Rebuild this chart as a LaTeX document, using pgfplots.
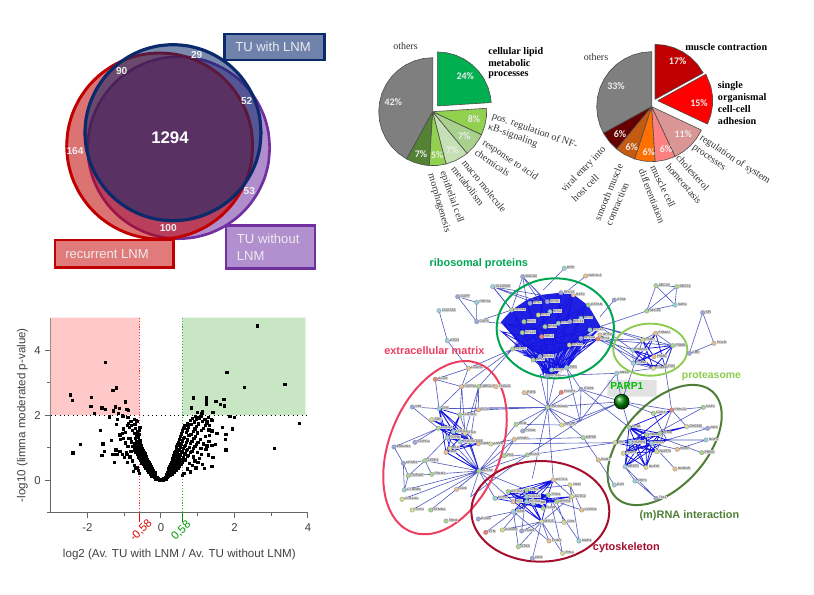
\documentclass[border=0pt]{standalone}
\usepackage{fontspec}
\setmainfont{Liberation Sans}
\newfontfamily\serif{Liberation Serif}
\newfontfamily\calib{Carlito}
\usepackage{pgfplots}
\usepackage{pgfplotstable}
\pgfplotsset{compat=1.18}

\definecolor{vred}{HTML}{C00000}
\definecolor{vnavy}{HTML}{0B2A6B}
\definecolor{vpurple}{HTML}{7030A0}
\definecolor{boxn}{HTML}{6F82AC}
\definecolor{boxr}{HTML}{E17B7B}
\definecolor{boxp}{HTML}{B28FCF}
\definecolor{netblue}{HTML}{4F58C0}
\definecolor{netdense}{HTML}{1414E0}
\definecolor{ovgreen}{HTML}{00A651}
\definecolor{ovlime}{HTML}{8CCB4E}
\definecolor{ovdark}{HTML}{4F7F36}
\definecolor{ovpink}{HTML}{EC3F63}
\definecolor{ovcrim}{HTML}{A50F2D}
\definecolor{pgray}{HTML}{7F7F7F}
\definecolor{pa}{HTML}{00B050}
\definecolor{pb}{HTML}{92D050}
\definecolor{pc}{HTML}{A9D18E}
\definecolor{pd}{HTML}{C5E0B4}
\definecolor{pe}{HTML}{548235}
\definecolor{qa}{HTML}{C00000}
\definecolor{qb}{HTML}{FF0000}
\definecolor{qc}{HTML}{D99694}
\definecolor{qd}{HTML}{FF8080}
\definecolor{qe}{HTML}{FF7000}
\definecolor{qf}{HTML}{C55A11}
\definecolor{qg}{HTML}{660000}
\definecolor{ndG}{HTML}{A8D692}
\definecolor{ndT}{HTML}{98D2D8}
\definecolor{ndO}{HTML}{E8BE90}
\definecolor{ndY}{HTML}{D8DA90}
\definecolor{ndP}{HTML}{9CA6DC}
\definecolor{ndR}{HTML}{E88273}
\definecolor{vpink}{HTML}{FFC9C9}
\definecolor{vmint}{HTML}{C8E6C4}

% unit circle, scaled for the venn sets and the network ovals
\pgfplotstableread{
c s
1 0
.985 .174
.94 .342
.866 .5
.766 .643
.643 .766
.5 .866
.342 .94
.174 .985
0 1
-.174 .985
-.342 .94
-.5 .866
-.643 .766
-.766 .643
-.866 .5
-.94 .342
-.985 .174
-1 0
-.985 -.174
-.94 -.342
-.866 -.5
-.766 -.643
-.643 -.766
-.5 -.866
-.342 -.94
-.174 -.985
0 -1
.174 -.985
.342 -.94
.5 -.866
.643 -.766
.766 -.643
.866 -.5
.94 -.342
.985 -.174
1 0
}\ringtab

% network nodes, one table per colour
\pgfplotstableread{
x y n
425 195 RPS3A
462 230 RPL5
525 245 RPS8
457 263 RPL23
428 312 RPS27
490 345 RPL9
655 180 EEF1B
326 425 UBE2L3
533 487 HSP90AA1
270 510 COL4A1
438 538 BGN
640 578 KIF5B
165 647 LTBP1
115 692 TNFAIP
185 688 FBLN1
182 795 STMN1
228 828 FBN1
327 678 ACTA2
403 632 FN1
472 630 RCN1
415 740 ACTG1
470 735 TPM2
445 905 STK3
908 302 PSMB
858 122 SEC23
830 198 SEC13
995 623 PRKD
1000 487 SAP1
920 125 SEC31
205 550 COL6A
300 590 ITGB5
535 750 TPM1
560 770 MYH11
520 790 FLNA
830 570 RBM3
870 565 DHX9
850 505 GSK3
777 547 SF3B
}\nodeG
\pgfplotstableread{
x y n
583 70 BRP
368 125 SLC25A5
320 172 PRPS1
207 197 COX7A2
232 287 ATG3
207 491 CPE
232 578 TGFBI
103 735 CTNNB1
660 255 RPL13
590 368 EIF3
788 315 PSMA2
790 355 PSMD
740 385 ANXA
795 708 CBP1
765 665 SRSF1
782 593 HNRPA
845 595 DDX5
1008 585 NOP2
915 180 SAR1
733 720 EZH
627 888 MAP4
490 775 TUBB
375 760 MYH9
430 800 TLN1
250 560 COL5A
270 590 POSTN
470 770 ACTN1
470 755 CALD1
565 235 RPL4
633 220 RPS4
540 200 RPL6
545 375 RPS9
}\nodeT
\pgfplotstableread{
x y n
647 93 NAP1L3
295 370 LGOR1
275 425 CAPN2
378 425 TAGLN
463 443 P3H1
325 495 DCN
433 583 SPARC
260 733 CD9
690 270 RPS6
610 150 EEF2
857 265 PSMA7
852 335 PSME
1032 295 POLR
922 613 SNRP
915 672 HNRNP
685 645 RAB7
550 705 ACTC1
430 770 VCL
635 795 CORO1
537 888 CNN1
325 597 LAMA
228 622 LUM
}\nodeO
\pgfplotstableread{
x y n
505 210 RPL7
598 300 RPL10
285 565 ITGA
363 597 LAMB
96 763 COL1A1
127 795 THY1
185 524 SDC
240 610 ELN
575 540 RPLP0
885 365 TXN
850 370 PSMD2
950 545 CHCHD
600 720 VIM2
605 755 ACTC2
515 830 MYL6
397 855 SORBS
578 925 FHL1
582 832 CSN
818 285 FSBP
760 625 HNRH
860 620 NUDT3
828 667 NUFIP
735 593 SRP
}\nodeY
\pgfplotstableread{
x y n
458 95 NACA2
263 155 CAPP
320 230 CAPS
733 165 STIM
633 433 ITGB1
127 486 VIM
458 558 PCNA
72 606 EMILIN1
135 592 COPG1
100 655 NFKB1
998 203 SPI
958 325 GRP
858 760 TIA1
1013 550 DDX
325 822 EXOC
455 858 VCAN
487 940 DES
532 170 RPS5
573 143 RPL11
480 175 RPS7
600 230 RPL14
633 280 RPS10
510 335 RPL15
532 393 RPS11
}\nodeP
\pgfplotstableread{
x y n
574 442 FKBP4
515 275 RPL3
905 495 PRKCD
347 862 VTN
196 403 ACO2
683 282 RPS2
}\nodeR

\pgfplotsset{
  canvas/.style={hide axis, clip=false, x=0.75pt, y=0.75pt, enlargelimits=false},
  netcanvas/.style={hide axis, clip=false, x=0.25pt, y=0.25pt, enlargelimits=false,
    xmin=0, xmax=1110, ymin=0, ymax=990, y dir=reverse},
  slice/.style={draw=black!70, line width=0.45pt, fill=#1, data cs=polar, line join=round},
  netline/.style={color=netblue, line width=0.45pt, no markers},
  netthick/.style={color=netdense, line width=0.55pt, no markers},
  netnode/.style={only marks, mark=*, mark size=1.7pt,
    mark options={fill=#1, draw=black!45, line width=0.2pt},
    point meta=explicit symbolic, nodes near coords,
    every node near coord/.style={font=\fontsize{2.6}{2.8}\selectfont, text=black!70, fill=black!16,
      inner sep=0.25pt, anchor=west, xshift=1.8pt, yshift=0.5pt}},
}

\newcommand{\ringoval}[6]{\addplot[#1, smooth, no markers, line cap=round] table[
  x expr={#2+#3*cos(#6)*\thisrow{c}-#4*sin(#6)*\thisrow{s}},
  y expr={#5+#3*sin(#6)*\thisrow{c}+#4*cos(#6)*\thisrow{s}}] {\ringtab};}
\newcommand{\lab}[4]{\node[anchor=west, rotate=#3, inner sep=0pt, text=black!80,
  font=\fontsize{7.5}{8}\selectfont\serif] at (axis cs:#1,#2) {#4};}
\newcommand{\blab}[3]{\node[anchor=west, inner sep=0pt, text=black,
  font=\fontsize{7.6}{8}\selectfont\serif\bfseries] at (axis cs:#1,#2) {#3};}
\newcommand{\pct}[3]{\node[inner sep=0pt, text=white!93!black,
  font=\fontsize{7.5}{8}\selectfont\calib\bfseries] at (axis cs:#1,#2) {#3};}
\newcommand{\vn}[3]{\node[inner sep=0pt, text=white!93!black,
  font=\fontsize{7.6}{8}\selectfont\bfseries] at (axis cs:#1,#2) {#3};}
\newcommand{\labelbox}[6]{\addplot[fill=#1, draw=#2, line width=2.2pt, line join=miter] coordinates
  {(#3,#4) (#5,#4) (#5,#6) (#3,#6) (#3,#4) (#5,#4)};}
\newcommand{\edge}[1]{\addplot[netline] coordinates {#1};}
\newcommand{\dense}[1]{\addplot[netthick] coordinates {#1};}
\newcommand{\netlabel}[4]{\node[anchor=west, inner sep=0pt, text=#1,
  font=\fontsize{#2}{9}\selectfont\bfseries] at (axis cs:#3) {#4};}

\begin{document}
\begin{tikzpicture}
\useasboundingbox (0,0) rectangle (610.5pt,446.25pt);

% ---- pie 1
\begin{axis}[canvas, at={(324.53pt,362.48pt)}, anchor=center, xmin=-70, xmax=70, ymin=-70, ymax=70]
\addplot[slice=pgray] coordinates {(0,0) (90,54) (100,54) (110,54) (120,54) (130,54) (140,54) (150,54) (160,54) (170,54) (180,54) (190,54) (200,54) (210,54) (220,54) (230,54) (241.2,54) (0,0)};
\addplot[slice=pe] coordinates {(0,0) (241.2,54) (250,54) (260,54) (266.4,54) (0,0)};
\addplot[slice=pb] coordinates {(0,0) (-93.6,54) (-85,54) (-75.6,54) (0,0)};
\addplot[slice=pd] coordinates {(0,0) (-75.6,54) (-65,54) (-55,54) (-50.4,54) (0,0)};
\addplot[slice=pc] coordinates {(0,0) (-50.4,54) (-40,54) (-30,54) (-25.2,54) (0,0)};
\addplot[slice=pb] coordinates {(0,0) (-25.2,54) (-15,54) (-5,54) (3.6,54) (0,0)};
\addplot[slice=pa, xshift=3.45pt, yshift=4.3pt] coordinates {(0,0) (90,54) (80,54) (70,54) (60,54) (50,54) (40,54) (30,54) (20,54) (10,54) (3.6,54) (0,0)};
\end{axis}

% ---- pie 2
\begin{axis}[canvas, at={(488.78pt,366.23pt)}, anchor=center, xmin=-70, xmax=70, ymin=-70, ymax=70]
\addplot[slice=pgray] coordinates {(0,0) (90,55) (100,55) (110,55) (120,55) (130,55) (140,55) (150,55) (160,55) (170,55) (180,55) (190,55) (200,55) (208.8,55) (0,0)};
\addplot[slice=qg] coordinates {(0,0) (208.8,55) (220,55) (230.4,55) (0,0)};
\addplot[slice=qf] coordinates {(0,0) (230.4,55) (240,55) (252,55) (0,0)};
\addplot[slice=qe] coordinates {(0,0) (252,55) (262,55) (273.6,55) (0,0)};
\addplot[slice=qd] coordinates {(0,0) (-86.4,55) (-75,55) (-64.8,55) (0,0)};
\addplot[slice=qc] coordinates {(0,0) (-64.8,55) (-55,55) (-45,55) (-35,55) (-25.2,55) (0,0)};
\addplot[slice=qb, xshift=4.5pt, yshift=4.5pt] coordinates {(0,0) (-25.2,55) (-15,55) (-5,55) (5,55) (15,55) (28.8,55) (0,0)};
\addplot[slice=qa, xshift=2.5pt, yshift=5.5pt] coordinates {(0,0) (28.8,55) (40,55) (50,55) (60,55) (70,55) (80,55) (90,55) (0,0)};
\end{axis}

% ---- venn and the pie texts, page pixels
\begin{axis}[canvas, at={(0pt,0pt)}, anchor=south west, xmin=0, xmax=814, ymin=0, ymax=595, y dir=reverse]
\ringoval{fill=vpurple, fill opacity=.55, draw=vpurple, line width=2pt}{178.7}{91}{91}{147.7}{0}
\ringoval{fill=vred, fill opacity=.55, draw=vred, line width=2.2pt}{159.7}{93}{93}{146}{0}
\ringoval{fill=vnavy, fill opacity=.55, draw=vnavy, line width=2.4pt}{173}{88}{88}{132.7}{0}

\labelbox{boxn}{vnavy}{224.3}{34}{324.3}{60}
\labelbox{boxr}{vred}{55}{240}{173.3}{267.3}
\labelbox{boxp}{vpurple}{226}{225.7}{315}{268.3}

\node[anchor=west, inner sep=0pt, text=white!92!black, font=\fontsize{9.8}{10}\selectfont] at (axis cs:235,47) {TU with LNM};
\node[anchor=west, inner sep=0pt, text=white!92!black, font=\fontsize{9.8}{10}\selectfont] at (axis cs:65,254.3) {recurrent LNM};
\node[anchor=west, inner sep=0pt, text=white!92!black, font=\fontsize{9.8}{10}\selectfont] at (axis cs:236.7,239) {TU without};
\node[anchor=west, inner sep=0pt, text=white!92!black, font=\fontsize{9.8}{10}\selectfont] at (axis cs:236.7,255.7) {LNM};

\node[inner sep=0pt, text=white, font=\fontsize{12.6}{13}\selectfont\bfseries] at (axis cs:170,137.3) {1294};
\vn{196.7}{55.3}{29}
\vn{121.7}{70.7}{90}
\vn{246.7}{100.7}{52}
\vn{75}{150.7}{164}
\vn{249.3}{191}{53}
\vn{168.3}{227.7}{100}

% pie 1 texts
\lab{393}{45.7}{0}{others}
\blab{488}{51.7}{cellular lipid}
\blab{488}{63.3}{metabolic}
\blab{488}{75}{processes}
\lab{492.3}{116}{-19.5}{pos. regulation of NF-}
\lab{488.3}{126.7}{-20}{κB-signaling}
\lab{483}{142.3}{-33.7}{response to acid}
\lab{475.7}{151.5}{-34}{chemicals}
\lab{464}{161}{-51}{macro molecule}
\lab{453.3}{167.3}{-52}{metabolism}
\lab{442.5}{171.5}{-70.5}{epithelial cell}
\lab{430.7}{174}{-74}{morphogenesis}
\pct{465.3}{76}{24\%}
\pct{393.3}{102.3}{42\%}
\pct{474}{119.3}{8\%}
\pct{464.3}{136}{7\%}
\pct{452.3}{150}{7\%}
\pct{437.3}{155}{5\%}
\pct{421}{154}{7\%}

% pie 2 texts
\lab{583.5}{56.7}{0}{others}
\blab{685}{46.7}{muscle contraction}
\blab{717.7}{86}{single}
\blab{717.7}{97.7}{organismal}
\blab{717.7}{109}{cell-cell}
\blab{717.7}{120.7}{adhesion}
\lab{700.5}{137.5}{-33}{regulation of system}
\lab{692.7}{147.3}{-35.6}{processes}
\lab{678}{156}{-48}{cholesterol}
\lab{667.7}{165}{-49}{homeostasis}
\lab{653}{166}{-64}{muscle cell}
\lab{641.7}{169.3}{-69}{differentiation}
\lab{597}{220}{67.6}{smooth muscle}
\lab{608.3}{225}{67}{contraction}
\lab{563}{191.5}{46}{viral entry into}
\lab{573}{200}{44}{host cell}
\pct{677.7}{61}{17\%}
\pct{616}{85.7}{33\%}
\pct{699}{102.7}{15\%}
\pct{683.3}{134}{11\%}
\pct{666}{149}{6\%}
\pct{648.7}{152.3}{6\%}
\pct{631.7}{146.7}{6\%}
\pct{620}{134}{6\%}
\end{axis}

% ---- volcano plot
\begin{axis}[at={(38.03pt,61.73pt)}, anchor=south west,
  x=27.5625pt, y=24.375pt, xmin=-3, xmax=4, ymin=-1, ymax=5,
  clip=false, axis lines=left, axis line style={-, draw=black!60, line width=0.9pt},
  xtick={-2,0,2,4}, ytick={0,2,4}, minor xtick={-1,1,3}, minor ytick={-1,1,3},
  tick align=outside, tick style={draw=black!60, line width=0.7pt},
  major tick length=4pt, minor tick length=2.5pt,
  tick label style={font=\fontsize{8.5}{9}\selectfont, text=black!75},
  /pgf/number format/assume math mode=true,
  xticklabel style={yshift=-1pt},
  xlabel={log2 (Av. TU with LNM / Av. TU without LNM)},
  ylabel={-log10 (limma moderated p-value)},
  label style={font=\fontsize{8.7}{9}\selectfont, text=black!75},
  xlabel style={yshift=-6pt},
  ylabel style={yshift=-2pt}]
\addplot[fill=vpink, draw=none] coordinates {(-3,2) (-0.58,2) (-0.58,5) (-3,5) (-3,2)};
\addplot[fill=vmint, draw=none] coordinates {(0.58,2) (3.93,2) (3.93,5) (0.58,5) (0.58,2)};
\addplot[black, line width=0.8pt, dash pattern=on 0.8pt off 2.5pt] coordinates {(-3,2) (3.95,2)};
\addplot[red!80, line width=0.7pt, dash pattern=on 0.8pt off 1.4pt] coordinates {(-0.58,5) (-0.58,-1)};
\addplot[green!60!black!80, line width=0.7pt, dash pattern=on 0.8pt off 1.4pt] coordinates {(0.58,5) (0.58,-1)};
\addplot[red, line width=0.8pt] coordinates {(-0.58,-1) (-0.58,-1.28)};
\addplot[green!60!black, line width=0.8pt] coordinates {(0.58,-1) (0.58,-1.28)};
\addplot[only marks, mark=square*, mark size=0.85pt, black] coordinates {
(-2.46,2.63)(-2.41,2.46)(-1.52,3.62)(-1.89,2.55)(-1.91,2.27)(-1.81,2.05)(-1.61,2.23)(-1.52,2.19)(-1.31,2.77)(-1.21,2.84)
(-0.98,2.41)(-1.24,2.26)(-1.14,2.22)(-1.29,2.14)(-0.93,2.18)(-0.88,2.15)(-1.17,2.05)(-1.05,1.98)(-1.02,1.97)(-1.41,1.95)
(2.63,4.75)(1.77,3.31)(1.80,3.32)(2.27,2.86)(3.37,2.95)(0.87,2.54)(1.23,2.54)(1.24,2.41)(1.24,2.35)(1.49,2.42)
(1.62,2.34)(1.71,2.50)(1.72,2.29)(0.83,2.23)(0.98,2.08)(1.13,2.13)(1.11,2.07)(1.41,2.10)(1.87,1.96)(2.0,1.94)
(3.77,1.76)(3.08,0.98)(1.94,1.58)(1.76,0.94)(1.74,1.25)(1.76,1.42)(1.66,1.62)(1.52,1.44)(1.38,1.52)(1.32,1.38)
(1.48,1.10)(1.38,1.08)(1.41,0.70)(1.38,0.43)(1.18,0.36)(1.25,1.06)
(-2.40,0.84)(-2.19,1.10)(-1.66,1.53)(-1.61,0.77)(-1.54,0.90)(-1.58,1.12)(-1.28,0.55)(-1.31,0.79)(-1.20,0.79)(-1.35,1.23)
(-1.23,0.94)(-1.05,0.79)(-0.93,0.79)(-0.67,1.83)(-1.19,1.87)(-1.22,1.71)
(-.14,.03)(-.09,.02)(-.05,.01)(0,.01)(.05,.01)(.09,.02)(.14,.03)
(-.17,.08)(-.12,.06)(-.08,.05)(-.03,.03)(.03,.03)(.08,.05)(.12,.06)(.17,.08)
(-.25,.14)(-.2,.12)(-.15,.11)(-.11,.09)(.11,.09)(.15,.11)(.2,.13)(.25,.15)
(-.29,.18)(-.24,.18)(-.19,.18)(-.15,.18)(.14,.18)(.19,.18)(.24,.18)(.30,.18)
(-.33,.24)(-.27,.24)(-.22,.24)(-.17,.24)(.17,.24)(.22,.24)(.27,.24)(.33,.24)(.37,.24)
(-.37,.30)(-.31,.30)(-.25,.30)(-.20,.30)(.19,.30)(.24,.30)(.30,.30)(.36,.30)(.41,.30)
(-.42,.36)(-.35,.36)(-.29,.36)(-.23,.36)(.21,.36)(.27,.36)(.33,.36)(.40,.36)(.46,.36)
(-.46,.42)(-.39,.42)(-.33,.42)(-.26,.42)(.24,.42)(.30,.42)(.36,.42)(.43,.42)(.50,.42)
(-.49,.48)(-.43,.48)(-.36,.48)(-.29,.48)(.26,.48)(.32,.48)(.39,.48)(.46,.48)(.54,.48)
(-.53,.54)(-.46,.54)(-.39,.54)(-.32,.54)(.28,.54)(.35,.54)(.42,.54)(.50,.54)(.58,.55)
(-.56,.61)(-.49,.58)(-.42,.62)(-.35,.59)(.30,.61)(.37,.58)(.45,.63)(.53,.57)(.62,.61)
(-.59,.68)(-.52,.64)(-.45,.67)(-.38,.65)(.31,.67)(.39,.64)(.47,.68)(.56,.65)(.67,.63)
(-.62,.70)(-.55,.73)(-.47,.71)(-.40,.74)(.33,.73)(.41,.70)(.50,.74)(.60,.71)(.71,.75)
(-.65,.80)(-.57,.77)(-.50,.79)(-.43,.81)(.35,.77)(.44,.80)(.52,.78)(.63,.81)(.75,.76)
(-.69,.86)(-.60,.83)(-.53,.87)(-.45,.84)(.37,.85)(.45,.82)(.55,.86)(.66,.83)(.79,.87)
(-.72,.92)(-.63,.89)(-.55,.91)(-.49,.93)(.38,.89)(.48,.92)(.57,.90)(.68,.93)(.84,.88)
(-.73,.97)(-.66,1.0)(-.58,.94)(-.51,.99)(.41,.97)(.49,.94)(.60,.98)(.72,.95)(.87,.99)
(-.77,1.04)(-.69,1.07)(-.60,1.03)(-.54,1.06)(.42,1.03)(.52,1.01)(.63,1.05)(.77,1.02)(.92,1.05)
(-.72,1.12)(-.63,1.10)(-.56,1.14)(.45,1.09)(.54,1.12)(.66,1.08)(.80,1.13)(.96,1.10)
(-.80,1.18)(-.66,1.20)(-.58,1.22)(.47,1.17)(.58,1.21)(.69,1.16)(.84,1.20)(1.0,1.17)
(-.70,1.28)(-.61,1.31)(.49,1.26)(.60,1.30)(.72,1.24)(.89,1.29)(1.06,1.26)
(-.84,1.30)(-.66,1.37)(-.60,1.41)(.52,1.36)(.64,1.33)(.76,1.38)(.93,1.35)
(-.73,1.45)(-.64,1.49)(.55,1.43)(.68,1.47)(.81,1.41)(.99,1.46)
(-.97,1.47)(-.78,1.54)(-.59,1.55)(.58,1.52)(.71,1.55)(.87,1.50)(1.09,1.53)
(-1.03,1.58)(-.70,1.60)(-.58,1.63)(.62,1.60)(.75,1.64)(.92,1.58)(1.16,1.60)
(-.86,1.62)(-.92,1.70)(-.80,1.68)(.65,1.68)(.81,1.71)(.96,1.66)(1.02,1.74)
(-.88,1.76)(-.71,1.73)(.72,1.76)(.90,1.80)(1.21,1.69)(1.26,1.76)
(-.64,1.82)(-.82,1.81)(.79,1.84)(.97,1.88)(1.13,1.81)
(-.73,1.88)(.86,1.90)(1.03,1.92)(1.19,1.87)(1.36,1.86)
(-.90,1.94)(.94,1.97)(1.08,1.96)(1.28,1.93)
(-.78,.6)(-.72,.45)(-.66,.38)(-.7,.36)(-.62,.3)(-.85,.72)(-.82,.9)(-.9,1.05)(-.98,1.15)(-1.02,1.3)
(-1.1,1.25)(-.92,.55)(-1,.7)(-.95,.85)(-.75,.28)(-.6,.22)(-1.12,.9)(-.88,1.3)(-1.05,1.45)(-1.12,1.4)
(.57,.15)(.62,.22)(.8,.26)(.72,.35)(.85,.45)(.78,.52)(.92,.6)(.88,.72)(1,.55)(1.05,.68)
(.98,.85)(1.1,.8)(1.08,.98)(1.15,1.12)(1.22,.95)(1.12,.5)(.95,.38)(1.28,.78)(1.3,1.2)(1.2,1.35)
(1.3,1.55)(1.4,1.85)(1.25,1.8)(1.32,1.7)};
\node[rotate=45, text=red!85!black, font=\fontsize{8.5}{9}\selectfont] at (axis cs:-0.54,-1.55) {-0,58};
\node[rotate=45, text=green!60!black, font=\fontsize{8.5}{9}\selectfont] at (axis cs:0.55,-1.56) {0,58};
\end{axis}

% ---- protein network, coordinates are 3x pixels from its top left corner
\begin{axis}[netcanvas, at={(277.5pt,262.5pt)}, anchor=north west]
% grey box behind PARP1
\addplot[fill=black!14, draw=none, opacity=.8] coordinates {(712,405) (860,405) (860,455) (712,455) (712,405)};
% ribosomal cluster
\addplot[fill=netdense, fill opacity=.95, draw=none] coordinates {(392,232) (425,195) (470,165) (510,150) (573,143) (610,148) (655,182) (692,245) (640,275) (600,310) (545,330) (490,322) (440,285) (392,232)};
\addplot[fill=netdense, fill opacity=.45, draw=none] coordinates {(428,312) (490,345) (545,392) (590,368) (640,300) (690,255) (640,275) (600,310) (545,330) (490,322) (440,285) (428,312)};
\dense{(400,235)(545,392)(425,195)(520,385)(470,165)(545,392)(510,150)(532,393)(573,143)(545,392)(610,150)(560,385)(650,180)(545,392)(690,245)(590,368)(640,265)(520,385)(683,282)(545,392)}
\dense{(428,312)(610,150)(490,345)(650,180)(428,312)(690,245)(490,345)(683,282)(428,312)(590,368)(395,260)(490,345)(400,235)(545,392)(395,260)(598,300)(400,235)(683,282)}
\dense{(440,280)(545,392)(470,300)(545,392)(500,320)(532,393)(540,320)(560,385)(590,300)(575,375)(620,280)(590,368)(655,270)(600,345)(633,280)(590,368)(460,330)(510,335)(490,345)(598,300)}
\dense{(480,300)(532,393)(510,300)(520,385)(530,300)(545,392)(555,300)(532,393)(575,300)(545,392)(600,290)(532,393)(625,270)(560,385)(660,255)(575,375)}
\edge{(458,95)(510,150)(368,125)(470,165)(458,95)(425,195)(368,125)(510,170)(458,95)(532,170)}
\edge{(368,125)(425,195)}
\edge{(583,70)(520,135)}
\edge{(647,93)(590,140)}
\edge{(263,155)(320,230)(320,172)(263,155)}
\edge{(320,230)(400,235)}
\edge{(320,230)(425,195)}
\edge{(207,197)(232,287)(295,370)}
\edge{(295,370)(428,312)(275,425)(295,370)(196,403)(275,425)(326,425)(428,312)}
\edge{(690,245)(830,198)(858,122)(915,180)(920,125)(830,198)(915,180)}
\edge{(858,122)(920,125)}
\edge{(733,165)(690,215)}
\edge{(998,203)(958,325)(1032,295)(998,203)}
\edge{(690,245)(788,315)(683,282)(818,285)(690,245)(908,302)(683,282)(850,370)(690,270)(790,355)}
\edge{(533,395)(533,487)(510,385)(533,487)(555,392)(533,487)(463,443)(533,487)(574,442)(533,487)(438,538)(533,487)(207,491)(533,487)(325,495)(533,487)(630,528)(533,487)(575,540)(533,487)(755,470)(533,487)(633,433)(533,487)(458,558)(533,487)(550,705)(533,487)(640,578)(533,487)(487,700)}
\edge{(755,470)(633,433)(630,528)(755,470)(575,540)(755,470)(740,385)(755,470)(850,505)(755,470)(777,547)(755,470)(905,495)(755,470)(818,285)}
\edge{(545,392)(740,385)(850,370)}
\edge{(590,368)(633,433)(777,547)}
\edge{(590,368)(630,528)(575,540)(438,538)}
\edge{(740,385)(630,528)(472,630)}
\edge{(363,597)(735,593)(890,585)}
\edge{(433,583)(640,578)(685,645)(733,720)}
\edge{(472,630)(735,593)}
\edge{(905,495)(885,365)(905,495)(860,620)}
\edge{(327,678)(103,735)(327,678)(96,763)(327,678)(127,795)(327,678)(182,795)(327,678)(302,755)(327,678)(185,688)(327,678)(165,647)(327,678)(438,538)(327,678)(433,583)(327,678)(240,610)(327,678)(232,578)(327,678)(270,510)(327,678)(403,632)(327,678)(472,630)(327,678)(207,491)(327,678)(430,770)(327,678)(470,735)(327,678)(375,760)(327,678)(260,733)(327,678)(285,565)(327,678)(270,590)(327,678)(228,622)}
\edge{(72,606)(205,550)(135,592)(205,550)(127,486)(207,491)}
\edge{(100,655)(165,647)(185,688)(115,692)(100,655)(103,735)(115,692)(165,647)(232,578)}
\edge{(100,655)(72,606)}
\edge{(196,403)(207,491)(275,425)(326,425)(325,495)(270,510)(275,425)(285,565)(326,425)(300,590)}
\edge{(207,491)(533,487)}
\edge{(363,597)(433,583)(403,632)(472,630)(302,755)}
\edge{(325,822)(430,800)(347,862)(470,770)(397,855)(515,830)(455,858)(470,735)}
\edge{(487,940)(515,830)(445,905)(430,800)(537,888)(515,830)(578,925)(540,760)(627,888)(600,720)(635,795)(560,770)(582,832)(515,830)}
\edge{(605,755)(515,830)}
\edge{(550,705)(605,755)(600,720)(470,735)}
\edge{(795,708)(765,665)(858,760)(798,708)}
\edge{(915,672)(845,595)(922,613)(1008,585)(890,585)(1013,550)(950,545)(905,495)(1000,487)(850,570)}
\edge{(995,623)(890,585)(850,505)}
% ECM cluster
\dense{(205,550)(285,565)(232,578)(270,510)(207,491)(325,597)(240,610)(285,565)(185,524)(300,590)(228,622)(270,510)(250,560)(325,597)(205,550)(270,590)(232,578)(325,597)(228,622)(327,678)(240,610)(327,678)(300,590)(207,491)(250,560)(185,524)(285,565)(228,622)(207,491)(240,610)}
% cytoskeleton cluster
\dense{(375,760)(470,735)(430,770)(550,705)(415,740)(560,770)(470,755)(515,830)(430,770)(535,750)(490,775)(550,705)(470,735)(520,790)(430,770)(605,755)(490,775)(415,740)(520,790)(550,705)(470,755)(430,800)(535,750)(515,830)(490,775)(560,770)(470,735)(535,790)(375,760)(535,750)(415,740)(535,790)(470,770)(550,705)(430,770)(560,770)(470,755)(535,750)(470,770)(415,740)(515,830)}
% proteasome cluster
\dense{(788,315)(908,302)(818,345)(857,265)(790,355)(885,365)(788,315)(852,335)(818,285)(850,370)(908,302)(885,365)(857,265)(790,355)(908,302)(788,315)(850,370)}
\edge{(788,315)(818,285)(857,265)(908,302)(885,365)(850,370)(790,355)(788,315)}
% mRNA cluster
\dense{(735,593)(845,595)(777,547)(860,620)(782,593)(950,545)(830,570)(765,665)(890,585)(760,625)(830,570)(828,667)(782,593)(905,495)(777,547)(828,667)(760,625)(845,595)(765,665)(845,595)(870,565)(735,593)(860,620)(777,547)(830,570)(782,593)(735,593)(890,585)(777,547)(765,665)(782,593)(860,620)(760,625)(870,565)(828,667)(845,595)(777,547)(870,565)}
\addplot[netnode=ndG] table[meta=n] {\nodeG};
\addplot[netnode=ndT] table[meta=n] {\nodeT};
\addplot[netnode=ndO] table[meta=n] {\nodeO};
\addplot[netnode=ndY] table[meta=n] {\nodeY};
\addplot[netnode=ndP] table[meta=n] {\nodeP};
\addplot[netnode=ndR] table[meta=n] {\nodeR};
\addplot[only marks, mark=ball, ball color=green!55!black, mark size=5.6pt] coordinates {(755,470)};
\ringoval{draw=ovgreen, line width=1.5pt}{556}{176}{150}{250}{0}
\ringoval{draw=ovlime, line width=1.4pt}{841}{111}{78}{314}{0}
\ringoval{draw=ovdark, line width=1.5pt}{884}{215}{125}{600}{-48}
\ringoval{draw=ovpink, line width=1.5pt}{225}{272}{167}{608}{-68}
\ringoval{draw=ovcrim, line width=1.5pt}{511}{207}{151}{799}{0}
\netlabel{ovgreen}{8.2}{178,57}{ribosomal proteins}
\netlabel{ovpink}{8.2}{42,317}{extracellular matrix}
\netlabel{ovlime}{7.8}{935,395}{proteasome}
\netlabel{ovdark}{8.2}{808,812}{(m)RNA interaction}
\netlabel{ovcrim}{8.2}{668,907}{cytoskeleton}
\netlabel{green!75!black}{7.6}{720,423}{PARP1}
\end{axis}
\end{tikzpicture}
\end{document}
